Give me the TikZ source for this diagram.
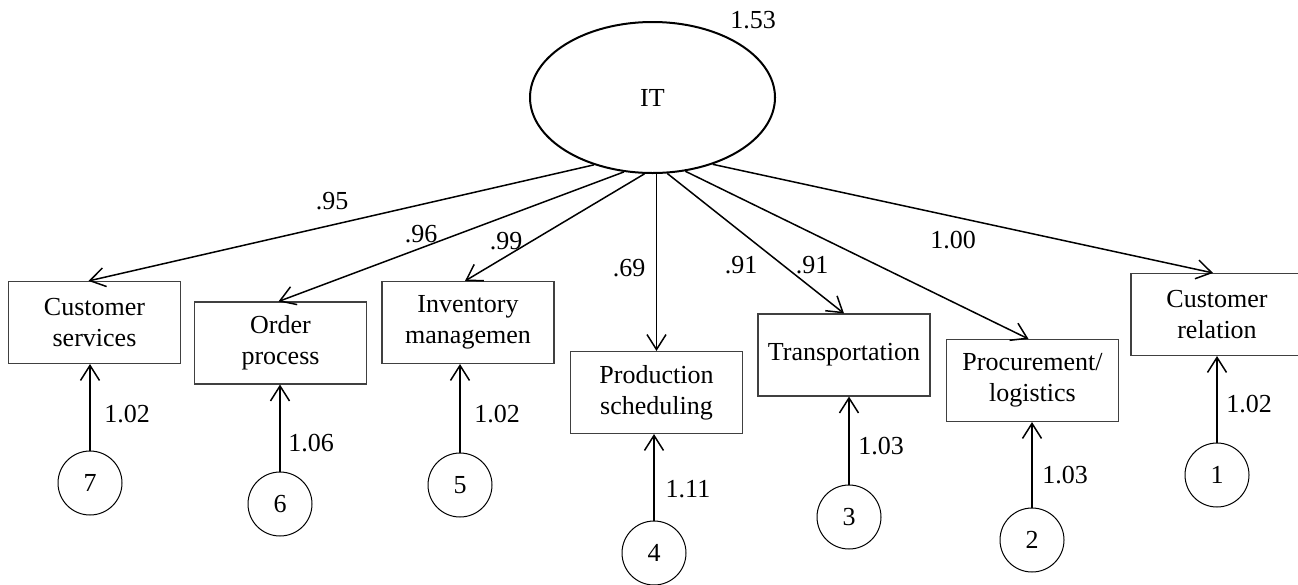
\documentclass[tikz,border=0pt]{standalone}
\usepackage{fontspec}
\setmainfont{Liberation Serif}
\usetikzlibrary{arrows.meta,shapes.geometric,calc}
\begin{document}
\begin{tikzpicture}[x=1pt,y=-1pt,
  every node/.style={font=\fontsize{26}{31}\selectfont},
  latent/.style={draw,ellipse,line width=2pt,minimum width=245pt,minimum height=151pt,inner sep=0pt},
  obsbox/.style={draw=black!75,line width=1.1pt,minimum width=172pt,minimum height=82pt,align=center,inner sep=2pt},
  errc/.style={draw,circle,line width=1pt,minimum size=64pt,inner sep=0pt},
  lbl/.style={inner sep=0pt},
  path/.style={line width=1.5pt,-{Straight Barb[length=15pt,width=19pt,line width=1.5pt]}}
]
\useasboundingbox (0,0) rectangle (1298,584);
\node[latent] (IT) at (652.5,97.5) {IT};
\node[lbl] (v) at (753,20) {1.53};

\node[obsbox] (CS) at (94.5,322.5) {Customer\\services};
\node[obsbox] (OP) at (280.5,343) {Order\\process};
\node[obsbox] (IM) at (468,322.5) {Inventory\\managemen};
\node[obsbox] (PS) at (656.5,392.5) {Production\\scheduling};
\node[obsbox] (TR) at (844,355) {Transportation};
\node[obsbox] (PL) at (1032.5,380.5) {Procurement/\\logistics};
\node[obsbox] (CR) at (1217,314.5) {Customer\\relation};

\node[errc] (E7) at (90,483) {7};
\node[errc] (E6) at (280,504) {6};
\node[errc] (E5) at (460,485) {5};
\node[errc] (E4) at (654,553) {4};
\node[errc] (E3) at (849,517) {3};
\node[errc] (E2) at (1032,540) {2};
\node[errc] (E1) at (1217,475) {1};

\draw[path] (IT.229.6) -- ([xshift=-6pt]CS.north);
\draw[path] (IT.249.1) -- ([xshift=-2pt]OP.north);
\draw[path] (IT.264.8) -- ([xshift=-3pt]IM.north);
\draw[path] (IT.south -| PS.north) -- (PS.north);
\draw[path] (IT.281) -- (TR.north);
\draw[path] (IT.294.1) -- ([xshift=-4pt]PL.north);
\draw[path] (IT.312.3) -- ([xshift=-4pt]CR.north);

\node[lbl] (l95) at (332,201) {.95};
\node[lbl] (l96) at (421,234) {.96};
\node[lbl] (l99) at (506,241) {.99};
\node[lbl] (l69) at (629,268) {.69};
\node[lbl] (l91a) at (741,265) {.91};
\node[lbl] (l91b) at (812,265) {.91};
\node[lbl] (l100) at (953,240) {1.00};

\draw[path] (E7.north) -- (E7.north |- CS.south);
\draw[path] (E6.north) -- (E6.north |- OP.south);
\draw[path] (E5.north) -- (E5.north |- IM.south);
\draw[path] (E4.north) -- (E4.north |- PS.south);
\draw[path] (E3.north) -- (E3.north |- TR.south);
\draw[path] (E2.north) -- (E2.north |- PL.south);
\draw[path] (E1.north) -- (E1.north |- CR.south);

\node[lbl] (e7) at (127,414) {1.02};
\node[lbl] (e6) at (311,443) {1.06};
\node[lbl] (e5) at (497,414) {1.02};
\node[lbl] (e4) at (688,489) {1.11};
\node[lbl] (e3) at (881,446) {1.03};
\node[lbl] (e2) at (1065,475) {1.03};
\node[lbl] (e1) at (1249,404) {1.02};
\end{tikzpicture}
\end{document}
